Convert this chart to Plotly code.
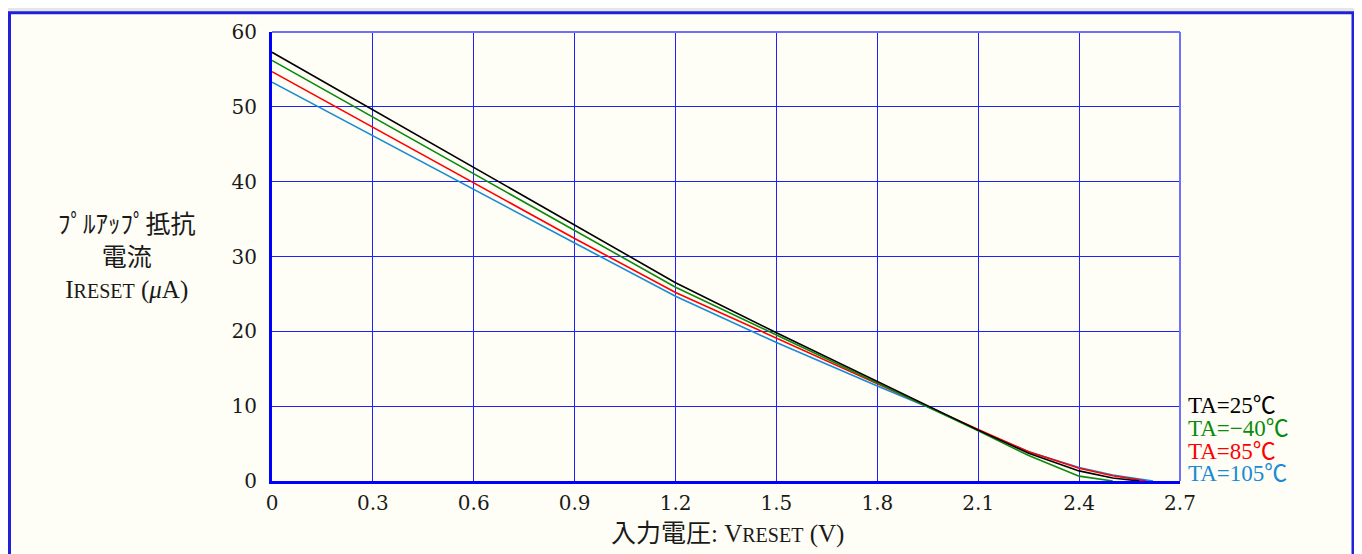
import plotly.graph_objects as go

# Data
x_25 = [0.0, 0.3, 0.6, 0.9, 1.2, 1.5, 1.8, 1.95, 2.1, 2.25, 2.4, 2.5, 2.58]
y_25 = [57.3, 49.6, 41.9, 34.2, 26.5, 19.8, 13.3, 10.0, 6.8, 3.7, 1.35, 0.4, 0.0]

x_m40 = [0.0, 0.3, 0.6, 0.9, 1.2, 1.5, 1.8, 1.95, 2.1, 2.25, 2.4, 2.5]
y_m40 = [56.2, 48.6, 41.0, 33.4, 25.9, 19.5, 13.1, 10.0, 6.7, 3.4, 0.65, 0.0]

x_85 = [0.0, 0.3, 0.6, 0.9, 1.2, 1.5, 1.8, 1.95, 2.1, 2.25, 2.4, 2.5, 2.6]
y_85 = [54.7, 47.3, 39.9, 32.4, 25.2, 19.1, 12.9, 9.9, 6.9, 3.9, 1.7, 0.7, 0.0]

x_105 = [0.0, 0.3, 0.6, 0.9, 1.2, 1.5, 1.8, 1.95, 2.1, 2.25, 2.4, 2.5, 2.62]
y_105 = [53.3, 46.1, 39.0, 31.8, 24.7, 18.5, 12.7, 9.9, 6.8, 3.9, 1.8, 0.8, 0.0]

series_names = ["TA=25℃", "TA=−40℃", "TA=85℃", "TA=105℃"]
series_colors = ["#000000", "#0a8a0a", "#ff0000", "#1a8ad4"]

x_ticks = [0, 0.3, 0.6, 0.9, 1.2, 1.5, 1.8, 2.1, 2.4, 2.7]
x_tick_labels = ["0", "0.3", "0.6", "0.9", "1.2", "1.5", "1.8", "2.1", "2.4", "2.7"]
y_ticks = [0, 10, 20, 30, 40, 50, 60]

SERIF = "Liberation Serif, Noto Sans CJK JP, serif"
NUMF = "DejaVu Serif, Liberation Serif, serif"

# page offset (browser body margin) compensation
OFF = 8
PL, PT, PW, PH = 272, 29, 908, 452  # plot area in page pixels

def px(x):
    return (x - PL) / PW

def py(y):
    return (PT + PH - y) / PH

fig = go.Figure()
order = [3, 2, 1, 0]
xs = [x_25, x_m40, x_85, x_105]
ys = [y_25, y_m40, y_85, y_105]
for i in order:
    fig.add_trace(go.Scatter(x=xs[i], y=ys[i], mode="lines", name=series_names[i],
                             line=dict(color=series_colors[i], width=1.6),
                             showlegend=False, hoverinfo="skip"))

W, H = 1362 - OFF, 554 - OFF
fig.update_layout(
    width=W, height=H,
    margin=dict(l=PL - OFF, r=W - (PL - OFF) - PW, t=PT - OFF, b=H - (PT - OFF) - PH),
    paper_bgcolor="#e6e6e6",
    plot_bgcolor="rgba(0,0,0,0)",
    font=dict(family=SERIF, size=22, color="#1a1a1a"),
    showlegend=False,
)
fig.update_xaxes(range=[0, 2.7], tickvals=x_ticks, ticktext=x_tick_labels,
                 showgrid=True, gridcolor="#2020ff", gridwidth=1,
                 showline=True, linecolor="#0000ff", linewidth=3,
                 zeroline=False, ticks="", ticklabelstandoff=2,
                 tickfont=dict(family=NUMF, size=20, color="#1a1a1a"))
fig.update_yaxes(range=[0, 60], tickvals=y_ticks,
                 showgrid=True, gridcolor="#2020ff", gridwidth=1,
                 showline=True, linecolor="#0000ff", linewidth=3,
                 zeroline=False, ticks="", ticklabelstandoff=8,
                 tickfont=dict(family=NUMF, size=20, color="#1a1a1a"))

# outer ivory panel with blue border
fig.add_shape(type="rect", xref="paper", yref="paper",
              x0=px(9.5), x1=px(1353),
              y0=py(620), y1=py(OFF + 1.5),
              fillcolor="#fefef6", line=dict(color="#2020d8", width=3), layer="below")
# lighter top/right border of plot area
fig.add_shape(type="line", xref="paper", yref="paper", x0=0, x1=1, y0=1, y1=1,
              line=dict(color="#7070ff", width=2))
fig.add_shape(type="line", xref="paper", yref="paper", x0=1, x1=1, y0=0, y1=1,
              line=dict(color="#7070ff", width=2))

# legend labels at right: one text block, tight line spacing
legend_text = "<br>".join(
    f"<span style='color:{c};font-size:23px'>{n}</span>" for n, c in zip(series_names, series_colors)
)
fig.add_annotation(xref="paper", yref="paper", x=px(1186), y=py(439),
                   text=legend_text, showarrow=False, xanchor="left", yanchor="middle",
                   align="left", font=dict(family=SERIF, size=17.5, color="#000000"))

# y axis title
fig.add_annotation(xref="paper", yref="paper", x=px(127), y=py(256),
                   text="ﾌﾟﾙｱｯﾌﾟ抵抗<br>電流<br>I<span style='font-size:20px'>RESET</span> (<i>μ</i>A)",
                   showarrow=False, xanchor="center", yanchor="middle", align="center",
                   font=dict(family=SERIF, size=25, color="#1a1a1a"))
# x axis title
fig.add_annotation(xref="paper", yref="paper", x=px(727), y=py(534),
                   text="入力電圧: V<span style='font-size:20px'>RESET</span> (V)",
                   showarrow=False, xanchor="center", yanchor="middle",
                   font=dict(family=SERIF, size=25, color="#1a1a1a"))

fig.write_html("out.html")
